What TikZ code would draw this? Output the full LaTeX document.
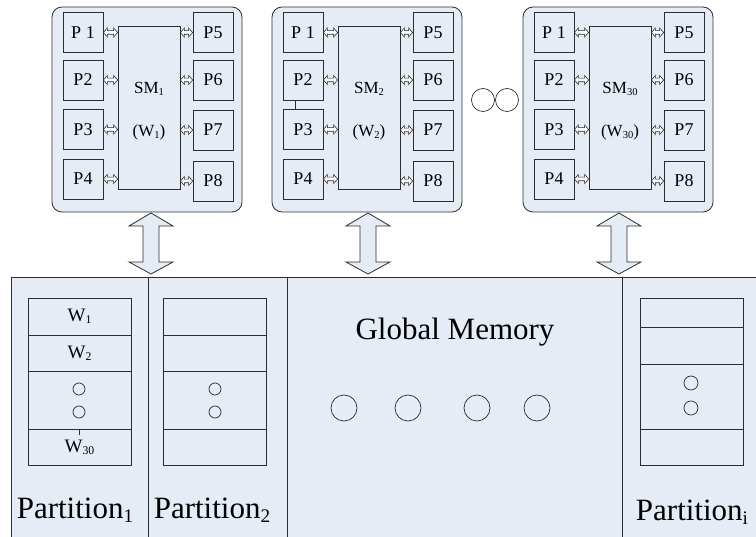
\documentclass[tikz,border=0pt]{standalone}
\usepackage{fontspec}
\setmainfont{Liberation Serif}
\usetikzlibrary{arrows.meta,calc}
\definecolor{bfill}{RGB}{230,236,246}
\definecolor{lc}{RGB}{45,45,45}
\tikzset{
  smbox/.style={draw=lc, fill=bfill, rounded corners=10pt, line width=0.8pt, inner sep=0pt},
  pbox/.style={draw=lc, fill=bfill, line width=0.8pt, inner sep=0pt, minimum width=40, minimum height=40, font=\fontsize{18}{20}\selectfont},
  cbox/.style={draw=lc, fill=bfill, line width=0.8pt, inner sep=0pt},
  lbl/.style={inner sep=0pt, font=\fontsize{17}{19}\selectfont},
  smallarrow/.style={draw=lc, fill=white, line width=0.6pt},
  bigarrow/.style={draw=lc, fill=bfill, line width=0.8pt},
  dotc/.style={circle, draw=lc, line width=0.7pt, inner sep=0pt},
  rowbox/.style={draw=lc, fill=bfill, line width=0.8pt, inner sep=0pt, minimum width=103, font=\fontsize{19}{21}\selectfont},
  biglbl/.style={inner sep=0pt, font=\fontsize{31}{34}\selectfont},
  memline/.style={draw=lc, line width=0.9pt}
}
\newcommand\sbs[1]{\raisebox{-0.12em}{\scalebox{0.62}{#1}}}
% small hollow double arrow between two named points on one horizontal line
\newcommand\sarr[2]{%
  \path[smallarrow] let \p1=(#1), \p2=(#2) in
    (\x1,\y1) -- (\x1+4pt,\y1+4.5pt) -- (\x1+4pt,\y1+1.8pt) -- (\x2-4pt,\y1+1.8pt)
    -- (\x2-4pt,\y1+4.5pt) -- (\x2,\y1) -- (\x2-4pt,\y1-4.5pt) -- (\x2-4pt,\y1-1.8pt)
    -- (\x1+4pt,\y1-1.8pt) -- (\x1+4pt,\y1-4.5pt) -- cycle;}
\newcommand\SMunit[3]{%
  \begin{scope}[shift={(#2,0)}]
    \node[smbox, minimum width=190, minimum height=205] (#1) at (95,109.5) {};
    \node[cbox, minimum width=62, minimum height=163] (#1c) at (97,107.5) {};
    \node[lbl] (#1t1) at (97,89) {SM\sbs{#3}};
    \node[lbl] (#1t2) at (97,132) {(W\sbs{#3})};
    \node[pbox] (#1p1) at (31,32.5) {P 1};
    \node[pbox] (#1p2) at (31,80) {P2};
    \node[pbox] (#1p3) at (31,129.5) {P3};
    \node[pbox] (#1p4) at (31,179) {P4};
    \node[pbox] (#1p5) at (161,32.5) {P5};
    \node[pbox] (#1p6) at (161,80) {P6};
    \node[pbox] (#1p7) at (161,130) {P7};
    \node[pbox] (#1p8) at (161,181) {P8};
    \foreach \i in {1,2,3,4}{\sarr{#1p\i.east}{#1p\i.east -| #1c.west}}
    \foreach \i in {5,6,7,8}{\sarr{#1p\i.west -| #1c.east}{#1p\i.west}}
  \end{scope}}
\newcommand\bigarr[2]{%
  \path[bigarrow] let \p1=(#1), \p2=(#2) in
    (\x1,\y1) -- (\x1+22pt,\y1-13pt) -- (\x1+8pt,\y1-13pt) -- (\x1+8pt,\y2+12pt)
    -- (\x1+22pt,\y2+12pt) -- (\x1,\y2) -- (\x1-22pt,\y2+12pt) -- (\x1-8pt,\y2+12pt)
    -- (\x1-8pt,\y1-13pt) -- (\x1-22pt,\y1-13pt) -- cycle;}
\begin{document}
\begin{tikzpicture}[x=1pt,y=-1pt]
\useasboundingbox (0,0) rectangle (756,537);
\clip (0,0) rectangle (756,537);
% memory
\fill[bfill] (11,277) rectangle (770,550);
\draw[memline] (11,550) -- (11,277) -- (770,277);
\draw[memline] (148,277) -- (148,550);
\draw[memline] (287,277) -- (287,550);
\draw[memline] (622,277) -- (622,550);
% SM units
\SMunit{sa}{52}{1}
\SMunit{sb}{272}{2}
\SMunit{sc}{523}{30}
\draw[lc, line width=0.6pt] (sbp2.south) ++(-8pt,0) coordinate (sbj1) -- (sbj1 |- sbp3.north);
\node[dotc, minimum size=23] (d1) at (483,100) {};
\node[dotc, minimum size=23] (d2) at (507,100) {};
% big arrows
\coordinate (a1s) at (151,213); \coordinate (a1e) at (151,274);
\coordinate (a2s) at (368,213); \coordinate (a2e) at (368,274);
\coordinate (a3s) at (619,213); \coordinate (a3e) at (619,274);
\bigarr{a1s}{a1e}
\bigarr{a2s}{a2e}
\bigarr{a3s}{a3e}
% partition 1 stack
\node[rowbox, minimum height=37] (q1r1) at (79.5,316.5) {W\sbs{1}};
\node[rowbox, minimum height=36] (q1r2) at (79.5,353) {W\sbs{2}};
\node[rowbox, minimum height=58] (q1r3) at (79.5,400) {};
\node[rowbox, minimum height=36] (q1r4) at (79.5,447) {W\sbs{30}};
\node[dotc, minimum size=12] (q1d1) at (79,389) {};
\node[dotc, minimum size=12] (q1d2) at (79,412) {};
\draw[lc, line width=0.6pt] (q1r4.north) -- ++(0,6);
% partition 2 stack
\node[rowbox, minimum height=37] (q2r1) at (214.5,316.5) {};
\node[rowbox, minimum height=36] (q2r2) at (214.5,353) {};
\node[rowbox, minimum height=58] (q2r3) at (214.5,400) {};
\node[rowbox, minimum height=36] (q2r4) at (214.5,447) {};
\node[dotc, minimum size=12] (q2d1) at (215,389) {};
\node[dotc, minimum size=12] (q2d2) at (215,412) {};
% partition i stack
\node[rowbox, minimum height=29] (q3r1) at (691.5,312.5) {};
\node[rowbox, minimum height=37] (q3r2) at (691.5,345.5) {};
\node[rowbox, minimum height=65] (q3r3) at (691.5,396.5) {};
\node[rowbox, minimum height=36] (q3r4) at (691.5,447) {};
\node[dotc, minimum size=14] (q3d1) at (691,383) {};
\node[dotc, minimum size=14] (q3d2) at (691,408) {};
% global memory
\node[biglbl] (gm) at (455,332) {Global Memory};
\node[dotc, minimum size=26] (g1) at (344,408) {};
\node[dotc, minimum size=26] (g2) at (408,408) {};
\node[dotc, minimum size=26] (g3) at (477,408) {};
\node[dotc, minimum size=26] (g4) at (537,408) {};
% labels
\node[biglbl] (pl1) at (75,510) {Partition\sbs{1}};
\node[biglbl] (pl2) at (212,510) {Partition\sbs{2}};
\node[biglbl] (pl3) at (692,512) {Partition\sbs{i}};
\end{tikzpicture}
\end{document}
